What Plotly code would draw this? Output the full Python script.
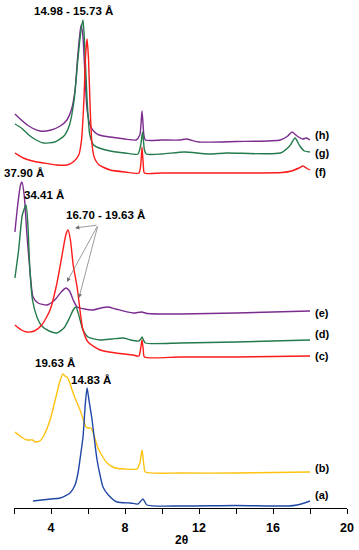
import plotly.graph_objects as go

# ---- data (2θ, intensity in arbitrary offset units) ----
h_x = [2.05, 2.4, 2.8, 3.4, 4.0, 4.5, 4.86, 5.1, 5.3, 5.45, 5.62, 5.72, 5.85, 5.95, 6.11, 6.3, 6.6, 7.2, 8.0, 8.6, 8.8, 8.92, 9.02, 9.1, 10.0, 11.0, 11.3, 12.0, 14.0, 16.4, 16.8, 17.03, 17.3, 17.6, 17.8, 18.0]
h_y = [394, 388, 382, 377, 378, 382, 388, 398, 418, 453, 483, 473, 428, 398, 383, 377, 373, 371, 369, 368, 373, 397, 373, 368, 368, 368, 369, 366, 366.5, 368, 372, 376, 372, 369, 370, 368]

g_x = [2.05, 2.4, 2.8, 3.2, 3.6, 4.2, 4.7, 5.0, 5.25, 5.45, 5.62, 5.73, 5.82, 5.95, 6.1, 6.3, 6.6, 7.2, 8.0, 8.7, 8.85, 8.95, 9.05, 9.15, 10.0, 11.2, 12.5, 13.5, 16.4, 16.9, 17.19, 17.45, 17.7, 18.0]
g_y = [384, 380, 373, 368, 365, 366, 372, 383, 408, 448, 478, 488, 463, 408, 373, 363, 360, 357, 355, 354, 363, 376, 358, 354, 354, 356, 354, 355, 355, 362, 370, 362, 357, 356]

f_x = [2.05, 2.5, 3.0, 3.6, 4.3, 4.86, 5.2, 5.5, 5.65, 5.78, 5.87, 5.95, 6.03, 6.12, 6.22, 6.35, 6.6, 7.2, 8.0, 8.75, 8.85, 8.92, 8.99, 9.05, 10.0, 14.0, 16.5, 17.0, 17.4, 17.62, 17.8, 18.0]
f_y = [355, 350, 347, 345, 343, 343, 346, 353, 368, 408, 453, 469, 448, 398, 363, 350, 343, 338, 336, 335, 343, 361, 343, 335, 335, 335, 335.5, 337, 340, 342, 340, 338]

e_x = [2.05, 2.2, 2.35, 2.43, 2.55, 2.7, 2.86, 3.03, 3.3, 3.78, 4.2, 4.55, 4.81, 5.0, 5.2, 5.41, 5.8, 6.27, 6.7, 7.08, 7.5, 8.43, 8.9, 9.2, 10.97, 14.0, 18.0]
e_y = [276, 303, 323, 326, 313, 273, 238, 211, 205, 203, 208, 216, 220, 217, 208, 201, 199, 198, 200, 201, 199, 195, 196, 194.5, 194, 195, 197]

d_x = [2.05, 2.25, 2.45, 2.65, 2.75, 2.86, 3.0, 3.24, 3.5, 3.9, 4.32, 4.7, 5.0, 5.2, 5.35, 5.5, 5.73, 6.0, 6.65, 7.3, 7.89, 8.3, 8.75, 8.85, 8.92, 9.0, 9.1, 10.97, 14.0, 18.0]
d_y = [230, 258, 293, 303, 283, 238, 208, 191, 182, 177, 175, 180, 190, 198, 201, 193, 178, 171, 168, 169, 170, 168, 167, 169, 171, 168, 165, 165, 166, 168]

c_x = [2.05, 2.4, 2.7, 3.1, 3.5, 3.95, 4.3, 4.6, 4.8, 4.92, 5.05, 5.2, 5.41, 5.6, 5.73, 6.0, 6.65, 7.5, 8.43, 8.75, 8.85, 8.92, 8.99, 9.05, 10.97, 14.0, 18.0]
c_y = [183, 178, 176, 177, 183, 198, 223, 253, 273, 278, 268, 243, 221, 193, 178, 166, 158, 155, 153, 152, 160, 168, 158, 151, 151, 151, 152]

b_x = [2.05, 2.4, 2.7, 3.0, 3.14, 3.4, 3.57, 3.95, 4.32, 4.5, 4.65, 4.75, 4.86, 5.0, 5.14, 5.3, 5.57, 5.75, 5.9, 6.0, 6.15, 6.27, 6.54, 6.8, 7.03, 7.46, 8.0, 8.65, 8.8, 8.92, 9.02, 9.1, 10.97, 14.0, 18.0]
b_y = [76, 71, 68, 68, 66, 67, 71, 88, 115, 128, 134, 132, 131, 126, 118, 110, 98, 88, 81, 80, 80, 76, 60, 51, 45, 40, 39, 39, 45, 58, 43, 36, 35, 35, 36]

a_x = [3.03, 3.5, 4.0, 4.49, 5.03, 5.3, 5.46, 5.6, 5.73, 5.85, 5.95, 6.05, 6.22, 6.35, 6.49, 6.65, 6.81, 7.1, 7.57, 8.3, 8.7, 8.97, 9.19, 10.97, 14.0, 16.85, 17.3, 17.7, 18.0]
a_y = [7, 8, 9, 10, 15, 23, 35, 53, 71, 103, 120, 108, 88, 68, 48, 33, 21, 13, 6, 5, 4, 9, 3, 2, 2.5, 2, 3, 5, 7]

series_names = ["(h)", "(g)", "(f)", "(e)", "(d)", "(c)", "(b)", "(a)"]
series_colors = ["#7B2C8E", "#237A4B", "#FF1A1A", "#7B2C8E", "#237A4B", "#FF1A1A", "#FFC20E", "#1F47A6"]
label_y = [373, 355, 336, 195, 174, 152, 40, 13]

tick_vals = [2, 4, 6, 8, 10, 12, 14, 16, 18, 20]
tick_text = ["", "4", "", "8", "", "12", "", "16", "", "20"]

xs = [h_x, g_x, f_x, e_x, d_x, c_x, b_x, a_x]
ys = [h_y, g_y, f_y, e_y, d_y, c_y, b_y, a_y]

FONT = "Liberation Sans, Arial, sans-serif"

fig = go.Figure()
for x, y, name, col in zip(xs, ys, series_names, series_colors):
    fig.add_trace(go.Scatter(x=x, y=y, mode="lines", name=name,
                             line=dict(color=col, width=1.4, shape="spline", smoothing=0.6),
                             hoverinfo="skip"))

ann = []
for name, ly in zip(series_names, label_y):
    ann.append(dict(x=18.15, y=ly, xref="x", yref="y", text=name, showarrow=False,
                    xanchor="left", yanchor="middle",
                    font=dict(family=FONT, size=11, color="black", weight="bold")))

peak_labels = [("14.98 - 15.73 Å", 5.19, 497), ("37.90 Å", 2.54, 335), ("34.41 Å", 3.62, 313),
               ("16.70 - 19.63 Å", 6.97, 293), ("19.63 Å", 4.22, 145), ("14.83 Å", 6.16, 128)]
for t, x, y in peak_labels:
    ann.append(dict(x=x, y=y, xref="x", yref="y", text=t, showarrow=False,
                    xanchor="center", yanchor="middle",
                    font=dict(family=FONT, size=11.5, color="black", weight="bold")))

# arrows from the 16.70 - 19.63 Å label
for tx, ty in [(5.30, 280), (4.86, 226), (5.51, 210)]:
    ann.append(dict(x=tx, y=ty, ax=6.54, ay=283, xref="x", yref="y", axref="x", ayref="y",
                    text="", showarrow=True, arrowhead=2, arrowsize=1.2, arrowwidth=0.7,
                    arrowcolor="#707070"))

ann.append(dict(x=11.08, y=-0.063, xref="x", yref="paper", text="2θ", showarrow=False,
                xanchor="center", yanchor="middle",
                font=dict(family=FONT, size=12, color="black", weight="bold")))

fig.update_layout(
    width=359, height=550,
    margin=dict(l=14, r=12, t=0, b=42),
    paper_bgcolor="white", plot_bgcolor="white",
    showlegend=False,
    annotations=ann,
    xaxis=dict(range=[2, 20], showgrid=False, zeroline=False,
               showline=True, linecolor="black", linewidth=1.2,
               ticks="outside", ticklen=5, tickwidth=1.2, tickcolor="black",
               tickvals=tick_vals, ticktext=tick_text, ticklabelstandoff=3,
               tickfont=dict(family=FONT, size=12.5, color="black", weight="bold")),
    yaxis=dict(range=[0, 508], visible=False, fixedrange=True),
)

fig.write_html("out.html", config={"displayModeBar": False},
               post_script="document.body.style.margin='0';document.body.style.overflow='hidden';")
